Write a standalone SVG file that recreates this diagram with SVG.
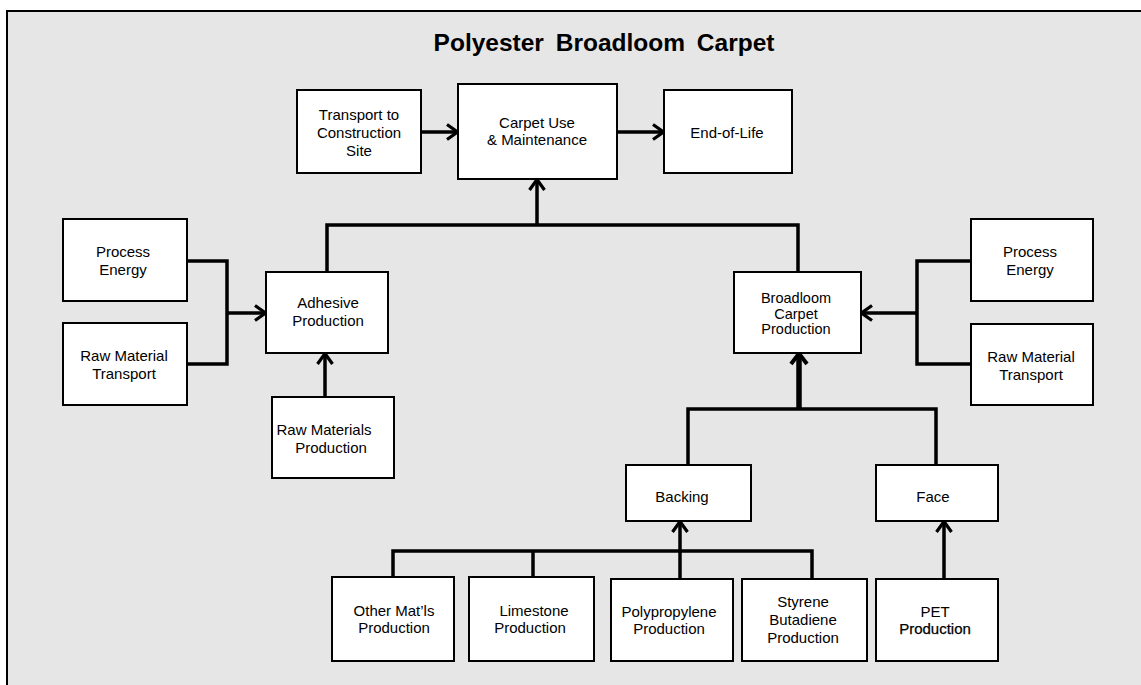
<svg xmlns="http://www.w3.org/2000/svg" width="1141" height="685" viewBox="0 0 1141 685">
<defs>
<style>
.box{fill:#fff;stroke:#000;stroke-width:2}
.t{font-family:"Liberation Sans",Arial,sans-serif;font-size:15px;fill:#000;text-anchor:middle}
.s{font-size:14.5px}
.c{fill:none;stroke:#000;stroke-width:3.5;stroke-linejoin:miter}
.k{fill:none;stroke:#000;stroke-width:5.5}
</style>
<marker id="ah" markerUnits="userSpaceOnUse" viewBox="0 0 14 18" refX="12.5" refY="9" markerWidth="14" markerHeight="18" orient="auto">
<path d="M1.5,1.5 L12,9 L1.5,16.5" fill="none" stroke="#000" stroke-width="3.2"/>
</marker>
<marker id="ahb" markerUnits="userSpaceOnUse" viewBox="0 0 14 20" refX="12.5" refY="10" markerWidth="14" markerHeight="20" orient="auto">
<path d="M1.5,2 L12,10 L1.5,18" fill="none" stroke="#000" stroke-width="4"/>
</marker>
</defs>
<rect x="7" y="11" width="1140" height="700" fill="#e6e6e6" stroke="#000" stroke-width="2"/>
<text x="604" y="51" font-family="'Liberation Sans',Arial,sans-serif" font-weight="bold" font-size="24.5" word-spacing="5" text-anchor="middle">Polyester Broadloom Carpet</text>

<g id="connectors">
<line class="c" x1="421" y1="132" x2="458" y2="132" marker-end="url(#ah)"/>
<line class="c" x1="617" y1="132" x2="664" y2="132" marker-end="url(#ah)"/>
<polyline class="c" points="327,272 327,225 798,225 798,272"/>
<line class="c" x1="537" y1="225" x2="537" y2="179" marker-end="url(#ah)"/>
<polyline class="c" points="187,261 227,261 227,364 187,364"/>
<line class="c" x1="227" y1="313" x2="266" y2="313" marker-end="url(#ah)"/>
<line class="c" x1="325" y1="397" x2="325" y2="353" marker-end="url(#ah)"/>
<polyline class="c" points="971,261 917,261 917,364 971,364"/>
<line class="c" x1="917" y1="313" x2="861" y2="313" marker-end="url(#ah)"/>
<polyline class="c" points="688,465 688,409 936,409 936,465"/>
<line class="k" x1="799" y1="409" x2="799" y2="353" marker-end="url(#ahb)"/>
<polyline class="c" points="393,577 393,551 812,551 812,579"/>
<line class="c" x1="533" y1="551" x2="533" y2="577"/>
<line class="c" x1="680" y1="582" x2="680" y2="521" marker-end="url(#ah)"/>
<line class="c" x1="944" y1="579" x2="944" y2="521" marker-end="url(#ah)"/>
</g>

<g id="transport-site"><rect class="box" x="297" y="90" width="124" height="83"/>
<text class="t" x="359" y="120">Transport to</text><text class="t" x="359" y="138">Construction</text><text class="t" x="359" y="156">Site</text></g>
<g id="carpet-use"><rect class="box" x="458" y="84" width="159" height="95"/>
<text class="t" x="537" y="128">Carpet Use</text><text class="t" x="537" y="145">&amp; Maintenance</text></g>
<g id="end-of-life"><rect class="box" x="664" y="90" width="128" height="83"/>
<text class="t" x="727" y="138">End-of-Life</text></g>

<g id="process-energy-left"><rect class="box" x="63" y="219" width="124" height="82"/>
<text class="t" x="123" y="257">Process</text><text class="t" x="123" y="275">Energy</text></g>
<g id="raw-transport-left"><rect class="box" x="63" y="323" width="124" height="82"/>
<text class="t" x="124" y="361">Raw Material</text><text class="t" x="124" y="379">Transport</text></g>
<g id="adhesive"><rect class="box" x="266" y="272" width="122" height="81"/>
<text class="t" x="328" y="308">Adhesive</text><text class="t" x="328" y="326">Production</text></g>
<g id="raw-materials"><rect class="box" x="272" y="397" width="122" height="81"/>
<text class="t" x="324" y="435">Raw Materials</text><text class="t" x="331" y="453">Production</text></g>

<g id="broadloom"><rect class="box" x="734" y="272" width="127" height="81"/>
<text class="t s" x="796" y="303">Broadloom</text><text class="t s" x="796" y="319">Carpet</text><text class="t s" x="796" y="334">Production</text></g>
<g id="process-energy-right"><rect class="box" x="971" y="219" width="122" height="82"/>
<text class="t" x="1030" y="257">Process</text><text class="t" x="1030" y="275">Energy</text></g>
<g id="raw-transport-right"><rect class="box" x="971" y="324" width="122" height="81"/>
<text class="t" x="1031" y="362">Raw Material</text><text class="t" x="1031" y="380">Transport</text></g>

<g id="backing"><rect class="box" x="626" y="465" width="125" height="56"/>
<text class="t" x="682" y="502">Backing</text></g>
<g id="face"><rect class="box" x="876" y="465" width="122" height="56"/>
<text class="t" x="933" y="502">Face</text></g>

<g id="other-matls"><rect class="box" x="332" y="577" width="122" height="84"/>
<text class="t" x="394" y="616">Other Mat’ls</text><text class="t" x="394" y="633">Production</text></g>
<g id="limestone"><rect class="box" x="469" y="577" width="125" height="84"/>
<text class="t" x="534" y="616">Limestone</text><text class="t" x="530" y="633">Production</text></g>
<g id="polypropylene"><rect class="box" x="611" y="579" width="122" height="82"/>
<text class="t" x="669" y="617">Polypropylene</text><text class="t" x="669" y="634">Production</text></g>
<g id="styrene"><rect class="box" x="742" y="579" width="125" height="82"/>
<text class="t" x="803" y="607">Styrene</text><text class="t" x="803" y="625">Butadiene</text><text class="t" x="803" y="643">Production</text></g>
<g id="pet"><rect class="box" x="876" y="579" width="122" height="82"/>
<text class="t" x="935" y="617">PET</text><text class="t" x="935" y="634" stroke="#000" stroke-width="0.25">Production</text></g>
</svg>
